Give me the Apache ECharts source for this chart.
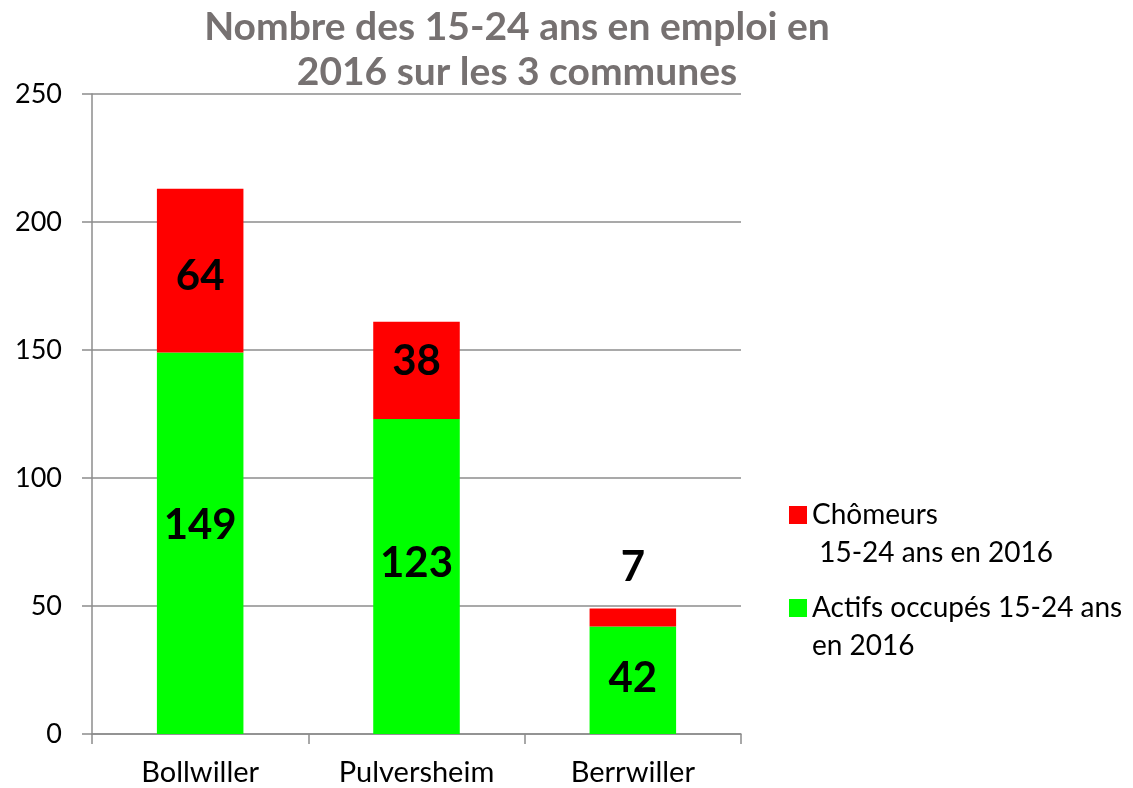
<!DOCTYPE html>
<html>
<head>
<meta charset="utf-8">
<script src="https://cdn.jsdelivr.net/npm/echarts@6/dist/echarts.min.js"></script>
<style>
    html, body { margin: 0; padding: 0; background: #fff; }
    #chart { width: 1133px; height: 788px; }
</style>
</head>
<body>
<div id="chart"></div>
<script>
const communes = ["Bollwiller", "Pulversheim", "Berrwiller"];
const actifs = [149, 123, 42];
const chomeurs = [64, 38, 7];
const seriesNames = ["Actifs occupés 15-24 ans\nen 2016", "Chômeurs\n 15-24 ans en 2016"];

const font = "Lato, 'Noto Sans', sans-serif";
const axisGray = "#8c8c8c";
const lh = 38;

const chart = echarts.init(document.getElementById("chart"));

const valueLabel = {
    show: true,
    position: "inside",
    color: "#000",
    fontSize: 42,
    fontWeight: "bold",
    fontFamily: font,
};

// small nudges so the labels sit where they do in the original
const actifsShift = [-18, -13, -2];
const chomeursShift = [6, -9, 0];

const option = {
    backgroundColor: "#ffffff",
    textStyle: { fontFamily: font },
    title: {
        text: "Nombre des 15-24 ans en emploi en\n2016 sur les 3 communes",
        left: 512,
        top: 0,
        textAlign: "center",
        textStyle: {
            fontFamily: font,
            fontSize: 39,
            fontWeight: "bold",
            color: "#767171",
            lineHeight: 45,
        },
    },
    legend: {
        data: [seriesNames[1], seriesNames[0]],
        orient: "vertical",
        left: 784,
        top: 453,
        itemWidth: 18,
        itemHeight: 18,
        itemGap: -21,
        icon: "rect",
        formatter: (name) => "\n" + name,
        textStyle: {
            fontFamily: font,
            fontSize: 28,
            color: "#000",
            lineHeight: lh,
        },
    },
    grid: { left: 92, right: 392, top: 94, bottom: 54 },
    xAxis: {
        type: "category",
        data: communes,
        axisLine: { lineStyle: { color: axisGray, width: 1.5 } },
        axisTick: { show: true, length: 10, lineStyle: { color: axisGray, width: 1.5 } },
        axisLabel: { color: "#000", fontSize: 29, margin: 24, fontFamily: font },
    },
    yAxis: {
        type: "value",
        min: 0,
        max: 250,
        interval: 50,
        axisLine: { show: true, lineStyle: { color: axisGray, width: 1.5 } },
        axisTick: { show: true, length: 10, lineStyle: { color: axisGray, width: 1.5 } },
        axisLabel: { color: "#000", fontSize: 27, margin: 30, fontFamily: font },
        splitLine: { lineStyle: { color: axisGray, width: 1.5 } },
    },
    series: [
        {
            name: seriesNames[0],
            type: "bar",
            stack: "total",
            barWidth: "40%",
            data: actifs.map((v, i) => ({ value: v, label: { offset: [0, actifsShift[i]] } })),
            itemStyle: { color: "#00ff00" },
            label: valueLabel,
        },
        {
            name: seriesNames[1],
            type: "bar",
            stack: "total",
            barWidth: "40%",
            data: chomeurs.map((v, i) =>
                i === 2
                    ? { value: v, label: { position: "top", distance: 20 } }
                    : { value: v, label: { offset: [0, chomeursShift[i]] } }
            ),
            itemStyle: { color: "#ff0000" },
            label: valueLabel,
        },
    ],
};

chart.setOption(option);
</script>
</body>
</html>
